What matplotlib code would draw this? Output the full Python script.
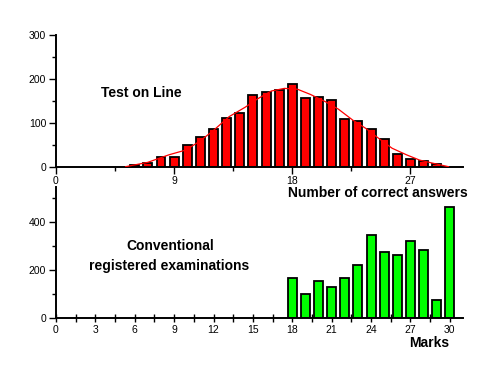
import numpy as np
import matplotlib.pyplot as plt
from matplotlib.ticker import MultipleLocator

plt.rcParams['font.family'] = ['Liberation Sans', 'DejaVu Sans']

# upper chart: number of correct answers (test on line)
answers = np.arange(6, 30)
answer_counts = [3, 8, 21, 21, 49, 67, 85, 110, 121, 162, 170, 174, 187,
                 155, 158, 151, 108, 103, 85, 64, 28, 17, 12, 7]

# fitted curve
curve_x = [5.3, 7.0, 8.6, 9.9, 10.9, 11.9, 13.2, 14.4, 15.4, 16.4, 17.4,
           18.4, 19.4, 20.5, 21.5, 22.6, 23.6, 24.6, 25.6, 26.7, 27.7, 28.7, 29.9]
curve_y = [0, 10, 27, 38, 57, 80, 114, 135, 155, 172, 178,
           176, 164, 148, 131, 106, 87, 64, 42, 27, 15, 8, 0]

# lower chart: marks of conventional registered examinations
marks = np.arange(18, 31)
mark_counts = [165, 98, 154, 127, 165, 219, 345, 274, 261, 320, 282, 73, 463]

fig = plt.figure(figsize=(4.92, 3.8), dpi=100)

ax1 = fig.add_axes([0.1138, 0.5613, 0.8272, 0.3474])
ax1.bar(answers, answer_counts, width=0.68, color='#ff0000',
        edgecolor='black', linewidth=1.3, zorder=2)
ax1.plot(curve_x, curve_y, color='#ff0000', linewidth=0.9, zorder=3)
ax1.set_xlim(0, 31)
ax1.set_ylim(0, 300)
ax1.xaxis.set_major_locator(MultipleLocator(9))
ax1.xaxis.set_minor_locator(MultipleLocator(4.5))
ax1.yaxis.set_major_locator(MultipleLocator(100))
ax1.yaxis.set_minor_locator(MultipleLocator(50))
ax1.text(0.21, 0.56, 'Test on Line', transform=ax1.transAxes,
         ha='center', va='center', fontsize=10, fontweight='bold')

ax2 = fig.add_axes([0.1138, 0.164, 0.8272, 0.343])
ax2.bar(marks, mark_counts, width=0.68, color='#00ff00',
        edgecolor='black', linewidth=1.3, zorder=2)
ax2.set_xlim(0, 31)
ax2.set_ylim(0, 545)
ax2.xaxis.set_major_locator(MultipleLocator(3))
ax2.xaxis.set_minor_locator(MultipleLocator(1.5))
ax2.yaxis.set_major_locator(MultipleLocator(200))
ax2.yaxis.set_minor_locator(MultipleLocator(100))
ax2.text(0.281, 0.552, 'Conventional', transform=ax2.transAxes,
         ha='center', va='center', fontsize=10, fontweight='bold')
ax2.text(0.278, 0.399, 'registered examinations', transform=ax2.transAxes,
         ha='center', va='center', fontsize=10, fontweight='bold')
ax2.text(0.918, -0.196, 'Marks', transform=ax2.transAxes,
         ha='center', va='center', fontsize=10, fontweight='bold')

# x label of upper chart sits over the lower axes, so put it on the figure
fig.text(378 / 492, 1 - 192.7 / 380, 'Number of correct answers',
         ha='center', va='center', fontsize=10, fontweight='bold', zorder=10)

for ax in (ax1, ax2):
    ax.patch.set_visible(False)
    ax.spines['top'].set_visible(False)
    ax.spines['right'].set_visible(False)
    ax.spines['left'].set_linewidth(1.4)
    ax.spines['bottom'].set_linewidth(1.4)
    ax.tick_params(which='major', length=5, width=1, labelsize=7.5, pad=2)
    ax.tick_params(which='minor', length=3, width=1)

ax2.tick_params(axis='x', which='both', direction='inout', length=6)

fig.savefig('out.png', dpi=100)
